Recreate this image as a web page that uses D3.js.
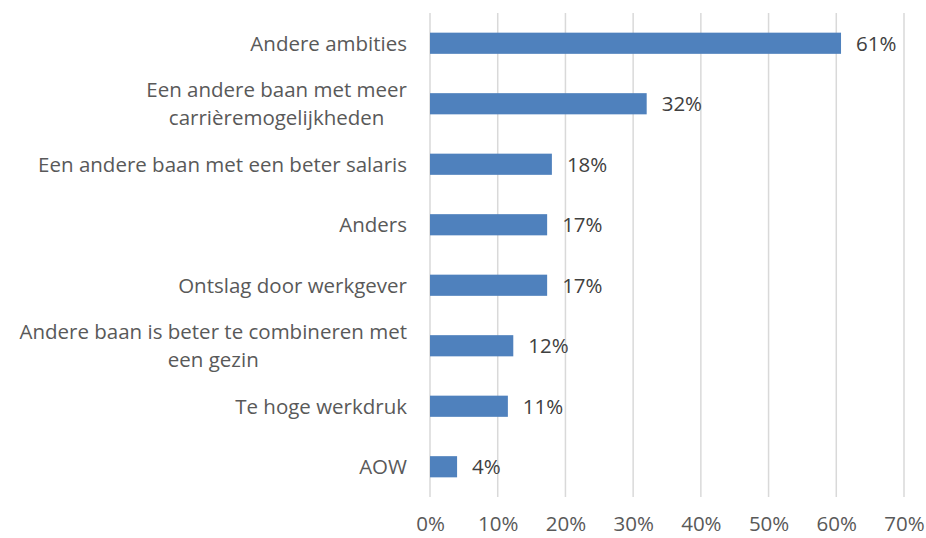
<!DOCTYPE html>
<html>
<head>
<meta charset="utf-8">
<script src="https://cdn.jsdelivr.net/npm/d3@7"></script>
<style>
  body { margin: 0; background: #fff; }
  text { font-family: "Open Sans", sans-serif; }
</style>
</head>
<body>
<div id="chart"></div>
<script>
// data
var categories = [
    "Andere ambities",
    "Een andere baan met meer carrièremogelijkheden",
    "Een andere baan met een beter salaris",
    "Anders",
    "Ontslag door werkgever",
    "Andere baan is beter te combineren met een gezin",
    "Te hoge werkdruk",
    "AOW"
];
var values = [60.7, 32, 18, 17.3, 17.3, 12.3, 11.5, 4];
var valueLabels = ["61%", "32%", "18%", "17%", "17%", "12%", "11%", "4%"];
var xTicks = [0, 10, 20, 30, 40, 50, 60, 70];

var W = 926, H = 538;
var margin = {top: 13, right: 22, bottom: 41, left: 430};
var width = W - margin.left - margin.right,
    height = H - margin.top - margin.bottom;
var fontSize = "20.5px";

var svg = d3.select("#chart").append("svg")
    .attr("width", W)
    .attr("height", H);

var g = svg.append("g")
    .attr("transform", "translate(" + margin.left + "," + margin.top + ")");

var x = d3.scaleLinear().domain([0, 70]).range([0, width]);
var y = d3.scaleBand().domain(categories).range([0, height]).paddingInner(0.65).paddingOuter(0.325);

// gridlines
g.selectAll(".grid")
    .data(xTicks)
    .enter().append("line")
    .attr("class", "grid")
    .attr("x1", function (d) { return x(d); })
    .attr("x2", function (d) { return x(d); })
    .attr("y1", 0)
    .attr("y2", height)
    .style("stroke", "#d9d9d9")
    .style("stroke-width", "1.5px");

// x axis labels
var xAxis = d3.axisBottom(x).tickValues(xTicks).tickSize(0).tickPadding(19)
    .tickFormat(function (d) { return d + "%"; });
var xg = g.append("g")
    .attr("transform", "translate(0," + height + ")")
    .call(xAxis);
xg.select(".domain").remove();
xg.selectAll("text")
    .style("font-size", fontSize)
    .style("fill", "#595959")
    .style("font-family", "'Open Sans', sans-serif");

// bars
g.selectAll(".bar")
    .data(values)
    .enter().append("rect")
    .attr("class", "bar")
    .attr("x", x(0))
    .attr("y", function (d, i) { return y(categories[i]); })
    .attr("width", function (d) { return x(d) - x(0); })
    .attr("height", y.bandwidth())
    .style("fill", "#4f81bd");

// value labels
g.selectAll(".val")
    .data(values)
    .enter().append("text")
    .attr("class", "val")
    .attr("x", function (d) { return x(d) + 15; })
    .attr("y", function (d, i) { return y(categories[i]) + y.bandwidth() / 2; })
    .attr("dy", "0.36em")
    .style("font-size", fontSize)
    .style("fill", "#404040")
    .text(function (d, i) { return valueLabels[i]; });

// category labels, wrapped
var maxLabelWidth = 402;
var lineHeight = 28;
categories.forEach(function (cat) {
    var cy = y(cat) + y.bandwidth() / 2;
    var tmp = svg.append("text").style("font-size", fontSize);
    var words = cat.split(" "), lines = [], line = [];
    words.forEach(function (w) {
        line.push(w);
        tmp.text(line.join(" "));
        if (tmp.node().getComputedTextLength() > maxLabelWidth && line.length > 1) {
            line.pop();
            lines.push(line.join(" "));
            line = [w];
        }
    });
    lines.push(line.join(" "));
    // widest line sets right edge, other lines centred on it
    var widths = lines.map(function (l) { tmp.text(l); return tmp.node().getComputedTextLength(); });
    tmp.remove();
    var maxW = d3.max(widths);
    var centerX = -23 - maxW / 2;
    lines.forEach(function (l, k) {
        g.append("text")
            .attr("x", centerX)
            .attr("y", cy + (k - (lines.length - 1) / 2) * lineHeight)
            .attr("dy", "0.36em")
            .attr("text-anchor", "middle")
            .style("font-size", fontSize)
            .style("fill", "#595959")
            .text(l);
    });
});
</script>
</body>
</html>
